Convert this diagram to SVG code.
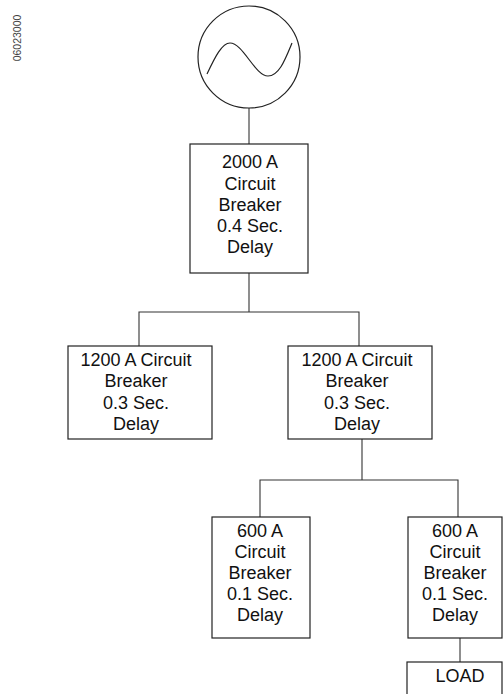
<svg xmlns="http://www.w3.org/2000/svg" width="503" height="694" viewBox="0 0 503 694">
<style>
.box{fill:#fff;stroke:#222;stroke-width:1.2}
.wire{fill:none;stroke:#333;stroke-width:1.1}
.t{font-family:"Liberation Sans",Arial,sans-serif;font-size:18px;fill:#111;text-anchor:middle}
.id{font-family:"Liberation Sans",Arial,sans-serif;font-size:10.5px;fill:#444;text-anchor:middle}
</style>
<rect width="503" height="694" fill="#fff"/>
<text class="id" transform="translate(20.5,38) rotate(-90)">06023000</text>
<g id="connectors">
<path class="wire" d="M249,108 V144"/>
<path class="wire" d="M249,273 V312 M139,346 V312 H359 V346"/>
<path class="wire" d="M362,439 V480 M260,517 V480 H458 V517"/>
<path class="wire" d="M460,638 V662"/>
</g>
<g id="source">
<circle cx="249" cy="57" r="51" fill="#fff" stroke="#222" stroke-width="1.2"/>
<path d="M207,74 C215,57 222,43 230,43 C243,43 255,76 268,76 C279,76 285,60 292,43" fill="none" stroke="#222" stroke-width="1.2"/>
</g>
<g id="cb2000">
<rect class="box" x="190" y="144" width="118" height="129"/>
<text class="t" x="250" y="168">2000 A</text>
<text class="t" x="250" y="189.5">Circuit</text>
<text class="t" x="250" y="211">Breaker</text>
<text class="t" x="250" y="232">0.4 Sec.</text>
<text class="t" x="250" y="253">Delay</text>
</g>
<g id="cb1200a">
<rect class="box" x="68" y="346" width="144" height="93"/>
<text class="t" x="136" y="366">1200 A Circuit</text>
<text class="t" x="136" y="387">Breaker</text>
<text class="t" x="136" y="408.5">0.3 Sec.</text>
<text class="t" x="136" y="430">Delay</text>
</g>
<g id="cb1200b">
<rect class="box" x="288" y="346" width="144" height="93"/>
<text class="t" x="357" y="366">1200 A Circuit</text>
<text class="t" x="357" y="387">Breaker</text>
<text class="t" x="357" y="408.5">0.3 Sec.</text>
<text class="t" x="357" y="430">Delay</text>
</g>
<g id="cb600a">
<rect class="box" x="212" y="517" width="98" height="121"/>
<text class="t" x="260" y="536.5">600 A</text>
<text class="t" x="260" y="557.5">Circuit</text>
<text class="t" x="260" y="578.5">Breaker</text>
<text class="t" x="260" y="599.5">0.1 Sec.</text>
<text class="t" x="260" y="620.5">Delay</text>
</g>
<g id="cb600b">
<rect class="box" x="408" y="517" width="94" height="121"/>
<text class="t" x="455" y="536.5">600 A</text>
<text class="t" x="455" y="557.5">Circuit</text>
<text class="t" x="455" y="578.5">Breaker</text>
<text class="t" x="455" y="599.5">0.1 Sec.</text>
<text class="t" x="455" y="620.5">Delay</text>
</g>
<g id="load">
<rect class="box" x="407" y="662" width="95" height="40"/>
<text class="t" x="460" y="682">LOAD</text>
</g>
</svg>
